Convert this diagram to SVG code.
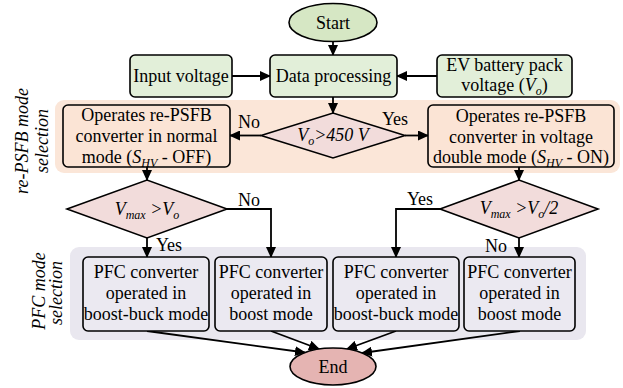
<svg xmlns="http://www.w3.org/2000/svg" width="623" height="388" viewBox="0 0 623 388">
<style>
text{font-family:"Liberation Serif","Times New Roman",serif;font-size:18px;fill:#000;text-anchor:middle}
.it{font-style:italic}
.sub{font-size:12px}
.box{stroke:#000;stroke-width:1.6}
.green{fill:#e2efd9}
.orange{fill:#fbe4d5}
.pfc{fill:#ebe9f1}
.dia{fill:#f2dcdb;stroke:#000;stroke-width:1.6}
.conn{fill:none;stroke:#000;stroke-width:1.8;marker-end:url(#arr)}
</style>
<defs>
<marker id="arr" markerUnits="userSpaceOnUse" markerWidth="11" markerHeight="10" refX="10" refY="5" orient="auto">
<path d="M0,0 L11,5 L0,10 z" fill="#000"/>
</marker>
</defs>
<rect x="55" y="100" width="565" height="73" rx="9" fill="#fbe6d8"/>
<rect x="70" y="247" width="516" height="93" rx="9" fill="#e9e7ef"/>
<text class="it" transform="translate(28,141) rotate(-90)">re-PSFB mode</text>
<text class="it" transform="translate(48,141) rotate(-90)">selection</text>
<text class="it" transform="translate(45,291) rotate(-90)">PFC mode</text>
<text class="it" transform="translate(62,293) rotate(-90)">selection</text>
<g id="connectors">
<path class="conn" d="M333,42 V55"/>
<path class="conn" d="M232,76 H270"/>
<path class="conn" d="M437,76 H397"/>
<path class="conn" d="M333,97 V113"/>
<path class="conn" d="M261,135.5 H230"/>
<path class="conn" d="M405,135.5 H428"/>
<path class="conn" d="M147,167 V180"/>
<path class="conn" d="M519,167 V180"/>
<path class="conn" d="M147,238 V257"/>
<path class="conn" d="M227,209 H271 V257"/>
<path class="conn" d="M440,209 H396 V257"/>
<path class="conn" d="M519,238 V257"/>
<path class="conn" d="M147,331 L305,352.5"/>
<path class="conn" d="M271,331 L319,349"/>
<path class="conn" d="M396,331 L347,349"/>
<path class="conn" d="M520,331 L362,353"/>
<text x="249" y="128">No</text>
<text x="395" y="125">Yes</text>
<text x="249" y="206">No</text>
<text x="420" y="205">Yes</text>
<text x="169" y="251">Yes</text>
<text x="496" y="252">No</text>
</g>
<g id="start">
<ellipse cx="333" cy="22.5" rx="44" ry="19" fill="#d6e7c4" class="box"/>
<text x="333" y="29">Start</text>
</g>
<g id="input">
<rect x="130" y="55" width="102" height="42" rx="5" class="box green"/>
<text x="181" y="82">Input voltage</text>
</g>
<g id="data">
<rect x="270" y="55" width="127" height="42" rx="5" class="box green"/>
<text x="333.5" y="82">Data processing</text>
</g>
<g id="battery">
<rect x="437" y="55" width="135" height="42" rx="5" class="box green"/>
<text x="504.5" y="71">EV battery pack</text>
<text x="504.5" y="91">voltage (<tspan class="it">V</tspan><tspan class="it sub" dy="4">o</tspan><tspan dy="-4">)</tspan></text>
</g>
<g id="normal">
<rect x="63" y="105" width="167" height="62" rx="5" class="box orange"/>
<text x="146.5" y="121">Operates re-PSFB</text>
<text x="146.5" y="142">converter in normal</text>
<text x="146.5" y="163">mode (<tspan class="it">S</tspan><tspan class="it sub" dy="4">HV</tspan><tspan dy="-4"> - OFF)</tspan></text>
</g>
<g id="dec1">
<polygon points="261,135.5 333,113 405,135.5 333,158" class="dia"/>
<text class="it" x="333" y="141">V<tspan class="sub" dy="4">o</tspan><tspan dy="-4">&gt;450 V</tspan></text>
</g>
<g id="double">
<rect x="428" y="105" width="186" height="62" rx="5" class="box orange"/>
<text x="521" y="122">Operates re-PSFB</text>
<text x="521" y="143">converter in voltage</text>
<text x="521" y="163">double mode (<tspan class="it">S</tspan><tspan class="it sub" dy="4">HV</tspan><tspan dy="-4"> - ON)</tspan></text>
</g>
<g id="dec2">
<polygon points="67,209 147,180 227,209 147,238" class="dia"/>
<text class="it" x="147" y="215">V<tspan class="sub" dy="4">max</tspan><tspan dy="-4"> &gt;V</tspan><tspan class="sub" dy="4">o</tspan></text>
</g>
<g id="dec3">
<polygon points="440,209 519,180 598,209 519,238" class="dia"/>
<text class="it" x="519" y="214">V<tspan class="sub" dy="4">max</tspan><tspan dy="-4"> &gt;V</tspan><tspan class="sub" dy="4">o</tspan><tspan dy="-4">/2</tspan></text>
</g>
<g id="pfc1">
<rect x="83" y="257" width="126" height="74" rx="5" class="box pfc"/>
<text x="146" y="278">PFC converter</text>
<text x="146" y="299">operated in</text>
<text x="146" y="320">boost-buck mode</text>
</g>
<g id="pfc2">
<rect x="215" y="257" width="112" height="74" rx="5" class="box pfc"/>
<text x="271" y="278">PFC converter</text>
<text x="271" y="299">operated in</text>
<text x="271" y="320">boost mode</text>
</g>
<g id="pfc3">
<rect x="333" y="257" width="126" height="74" rx="5" class="box pfc"/>
<text x="396" y="278">PFC converter</text>
<text x="396" y="299">operated in</text>
<text x="396" y="320">boost-buck mode</text>
</g>
<g id="pfc4">
<rect x="464" y="257" width="111" height="74" rx="5" class="box pfc"/>
<text x="519.5" y="278">PFC converter</text>
<text x="519.5" y="299">operated in</text>
<text x="519.5" y="320">boost mode</text>
</g>
<g id="end">
<ellipse cx="333" cy="366.5" rx="43" ry="18.5" fill="#e5b4b2" class="box"/>
<text x="333" y="373">End</text>
</g>
</svg>
